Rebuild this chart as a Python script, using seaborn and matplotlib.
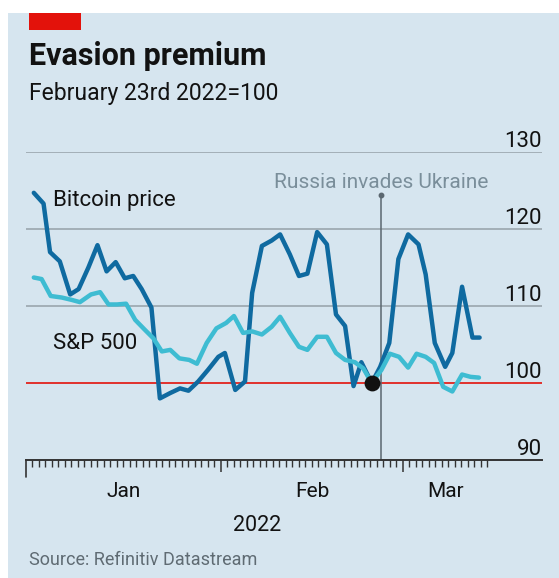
import numpy as np
import pandas as pd
import matplotlib
matplotlib.use("Agg")
import matplotlib.pyplot as plt
import matplotlib.transforms as mtransforms
from matplotlib.patches import Rectangle
from matplotlib.ticker import FixedLocator
import matplotlib.dates as mdates
import seaborn as sns

# ---------------- data (days after 1 Jan 2022, index value) ----------------
btc_days = [2.2, 3.7, 4.7, 6.2, 7.8, 9.1, 10.6, 12.0, 13.4, 14.8,
            16.2, 17.5, 18.8, 20.3, 21.6, 23.2, 24.7, 26.0, 27.5, 29.0,
            30.6, 31.6, 33.2, 34.7, 35.8, 37.3, 38.8, 40.1, 41.6, 43.0,
            44.3, 45.8, 47.3, 48.7, 50.1, 51.4, 52.6, 54.2, 55.5, 56.9,
            58.3, 59.8, 61.4, 62.5, 63.9, 65.5, 66.6, 68.1, 69.7, 70.8]
btc_values = [124.7, 123.3, 117.0, 115.8, 111.5, 112.2, 115.0, 117.9, 114.5, 115.7,
              113.6, 113.9, 112.2, 109.8, 98.0, 98.7, 99.3, 99.0, 100.2, 101.7,
              103.4, 103.9, 99.1, 100.2, 111.7, 117.8, 118.5, 119.3, 116.7, 113.9,
              114.2, 119.6, 118.0, 108.9, 107.4, 99.6, 102.7, 100.0, 102.1, 105.2,
              116.1, 119.3, 118.0, 114.1, 105.2, 102.1, 103.9, 112.5, 105.9, 105.9]

spx_days = [2.2, 3.4, 4.8, 6.5, 8.0, 9.3, 11.0, 12.4, 13.7, 15.0,
            16.4, 17.8, 19.3, 20.6, 21.9, 23.2, 24.6, 26.1, 27.3, 28.8,
            30.3, 31.8, 33.0, 34.4, 35.8, 37.3, 38.8, 40.1, 41.6, 43.0,
            44.3, 45.8, 47.3, 48.7, 50.1, 51.6, 52.9, 54.2, 55.7, 57.0,
            58.4, 59.8, 61.1, 62.5, 63.8, 65.2, 66.6, 68.1, 69.4, 70.7]
spx_values = [113.7, 113.5, 111.3, 111.1, 110.8, 110.5, 111.5, 111.8, 110.2, 110.2,
              110.3, 108.2, 106.9, 105.8, 104.1, 104.3, 103.2, 103.0, 102.5, 105.2,
              107.1, 107.8, 108.7, 106.5, 106.7, 106.3, 107.3, 108.6, 106.5, 104.7,
              104.3, 106.0, 106.0, 103.9, 103.0, 102.7, 101.9, 100.0, 101.7, 103.8,
              103.4, 102.0, 103.8, 103.4, 102.6, 99.5, 98.9, 101.1, 100.8, 100.7]

series_names = ["Bitcoin price", "S&P 500"]
base_day = 54.2          # rebasing point (=100)
base_value = 100
invasion_day = 55.6
y_ticks = [90, 100, 110, 120, 130]
month_labels = ["Jan", "Feb", "Mar"]
year_label = "2022"
title = "Evasion premium"
subtitle = "February 23rd 2022=100"
source = "Source: Refinitiv Datastream"
event_label = "Russia invades Ukraine"

START = pd.Timestamp("2022-01-01")


def to_date(d):
    return START + pd.to_timedelta(np.asarray(d, dtype=float), unit="D")


df = pd.concat([
    pd.DataFrame({"date": to_date(btc_days), "value": btc_values, "series": series_names[0]}),
    pd.DataFrame({"date": to_date(spx_days), "value": spx_values, "series": series_names[1]}),
], ignore_index=True)

# ---------------- style ----------------
BG = "#d6e5ef"
DARK = "#121212"
GRID = "#9aa6ae"
RED = "#e3120b"
BLUE = "#0f6aa0"
CYAN = "#3ebcd2"
AXC = "#333333"

sns.set_style("white")
plt.rcParams["font.family"] = ["Roboto", "DejaVu Sans"]
plt.rcParams["xtick.bottom"] = True

W, H = 559, 578
fig = plt.figure(figsize=(W / 100, H / 100), dpi=100)
fig.patch.set_facecolor("white")
fig.patches.append(Rectangle((8 / W, 0), 1 - 8 / W, 1 - 13 / H, transform=fig.transFigure,
                             facecolor=BG, edgecolor="none", zorder=-2))
fig.patches.append(Rectangle((29 / W, 1 - 30 / H), 52 / W, 17 / H, transform=fig.transFigure,
                             facecolor=RED, edgecolor="none", zorder=-1))

ax_left, ax_right, ax_top, ax_bot = 26, 542, 152, 460
ax = fig.add_axes([ax_left / W, 1 - ax_bot / H, (ax_right - ax_left) / W, (ax_bot - ax_top) / H])
ax.set_zorder(5)
ax.set_facecolor("none")
ax.patch.set_alpha(0)

sns.lineplot(data=df, x="date", y="value", hue="series", hue_order=series_names,
             palette={series_names[0]: BLUE, series_names[1]: CYAN},
             estimator=None, sort=False, linewidth=3.2, legend=False, ax=ax, zorder=3)

x_start = to_date(1.0)
ax.set_xlim(x_start, to_date(80.4))
ax.set_ylim(y_ticks[0], y_ticks[-1])

# gridlines and reference line
for v in y_ticks[2:]:
    ax.axhline(v, color=GRID, lw=1.2, zorder=1)
ax.axhline(base_value, color=RED, lw=1.2, zorder=1)

for s in ["left", "right", "top"]:
    ax.spines[s].set_visible(False)
ax.spines["bottom"].set_color(AXC)
ax.spines["bottom"].set_linewidth(1.4)

# x ticks: daily minor, monthly major
day_ticks = pd.date_range("2022-01-03", "2022-03-14", freq="D")
month_ticks = [pd.Timestamp("2022-02-01"), pd.Timestamp("2022-03-01")]
ax.xaxis.set_major_locator(FixedLocator(mdates.date2num(month_ticks)))
ax.xaxis.set_minor_locator(FixedLocator(mdates.date2num(day_ticks)))
ax.tick_params(axis="x", which="both", bottom=True, top=False, direction="out", color=AXC)
ax.tick_params(axis="x", which="major", length=8.6, width=1.1, labelbottom=False)
ax.tick_params(axis="x", which="minor", length=5.0, width=1.0)
ax.set_yticks([])
ax.set_xlabel("")
ax.set_ylabel("")
ax.axvline(x_start, ymin=-17 / 308, ymax=0, color=AXC, lw=1.2, clip_on=False)

# y labels on the right, above gridlines
for v in y_ticks:
    ax.annotate(f"{v}", xy=(1.0, v), xycoords=("axes fraction", "data"),
                xytext=(0, 3.6), textcoords="offset points", ha="right", va="baseline",
                fontsize=16, color=DARK)

# month labels centred in their visible span
xt = mtransforms.blended_transform_factory(ax.transData, ax.transAxes)
month_spans = [(pd.Timestamp("2022-01-02"), pd.Timestamp("2022-02-01")),
               (pd.Timestamp("2022-02-01"), pd.Timestamp("2022-03-01")),
               (pd.Timestamp("2022-03-01"), pd.Timestamp("2022-03-14"))]
for lab, (a, b) in zip(month_labels, month_spans):
    mid = a + (b - a) / 2
    ax.text(mdates.date2num(mid), (ax_bot - 497) / 308, lab, transform=xt,
            ha="center", va="baseline", fontsize=15, color=DARK)
mid_all = pd.Timestamp("2022-01-02") + (pd.Timestamp("2022-03-14") - pd.Timestamp("2022-01-02")) / 2
ax.text(mdates.date2num(mid_all), (ax_bot - 531) / 308, year_label, transform=xt,
        ha="center", va="baseline", fontsize=15.5, color=DARK)

# invasion marker
inv = to_date(invasion_day)
top_val = 124.4
ax.axvline(inv, ymin=0, ymax=(top_val - y_ticks[0]) / (y_ticks[-1] - y_ticks[0]),
           color="#5b6770", lw=1.1, zorder=2)
ax.plot([inv], [top_val], marker="o", ms=3.2, color="#5b6770", zorder=2, clip_on=False)
ax.text(mdates.date2num(inv), 125.3, event_label, ha="center", va="baseline",
        fontsize=15, color="#7a8e9a")

# base point
ax.scatter(to_date([base_day]), [base_value], s=130, color="#111111", zorder=5, linewidths=0)

# series labels
fig.text(53 / W, 1 - 206 / H, series_names[0], ha="left", va="baseline", fontsize=16, color=DARK)
fig.text(53 / W, 1 - 349 / H, series_names[1], ha="left", va="baseline", fontsize=16, color=DARK)

# titles
fig.text(29 / W, 1 - 65 / H, title, ha="left", va="baseline", fontsize=22,
         fontweight="bold", color=DARK)
fig.text(29 / W, 1 - 100 / H, subtitle, ha="left", va="baseline", fontsize=16.5, color=DARK)
fig.text(29 / W, 1 - 565 / H, source, ha="left", va="baseline", fontsize=13, color="#5f6b73")

fig.savefig("out.png", dpi=100, facecolor=fig.get_facecolor())
